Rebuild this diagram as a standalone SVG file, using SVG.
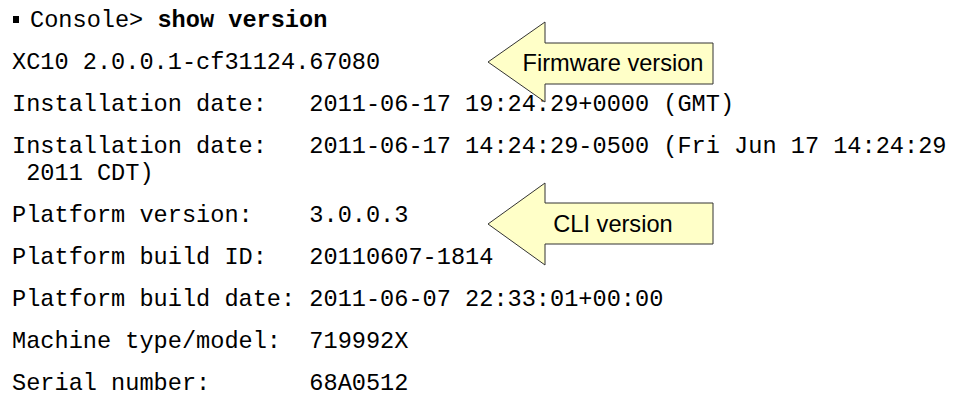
<svg xmlns="http://www.w3.org/2000/svg" width="959" height="405" viewBox="0 0 959 405">
<style>
.t{font-family:"Liberation Mono","Courier New",monospace;font-size:23.6px;fill:#000;white-space:pre}
.b{font-weight:bold}
.call{fill:#FFFFC8;stroke:#333;stroke-width:1}
.ct{font-family:"Liberation Sans",Arial,sans-serif;font-size:23.6px;fill:#000;text-anchor:middle}
</style>
<rect width="959" height="405" fill="#fff"/>
<g id="console">
<rect x="13" y="16" width="6" height="7" fill="#000"/>
<text class="t" x="30" y="27" xml:space="preserve">Console&gt; <tspan class="b">show version</tspan></text>
<text class="t" x="12" y="69" xml:space="preserve">XC10 2.0.0.1-cf31124.67080</text>
<text class="t" x="12" y="111" xml:space="preserve">Installation date:   2011-06-17 19:24:29+0000 (GMT)</text>
<text class="t" x="12" y="153" xml:space="preserve">Installation date:   2011-06-17 14:24:29-0500 (Fri Jun 17 14:24:29</text>
<text class="t" x="12" y="180" xml:space="preserve"> 2011 CDT)</text>
<text class="t" x="12" y="222" xml:space="preserve">Platform version:    3.0.0.3</text>
<text class="t" x="12" y="264" xml:space="preserve">Platform build ID:   20110607-1814</text>
<text class="t" x="12" y="306" xml:space="preserve">Platform build date: 2011-06-07 22:33:01+00:00</text>
<text class="t" x="12" y="348" xml:space="preserve">Machine type/model:  719992X</text>
<text class="t" x="12" y="390" xml:space="preserve">Serial number:       68A0512</text>
</g>
<g id="firmware-callout">
<polygon class="call" points="488,62 545,22 545,43 713,43 713,84 545,84 545,102"/>
<text class="ct" x="613" y="71">Firmware version</text>
</g>
<g id="cli-callout">
<polygon class="call" points="488,224 545,183 545,203 713,203 713,244 545,244 545,265"/>
<text class="ct" x="613" y="232">CLI version</text>
</g>
</svg>
